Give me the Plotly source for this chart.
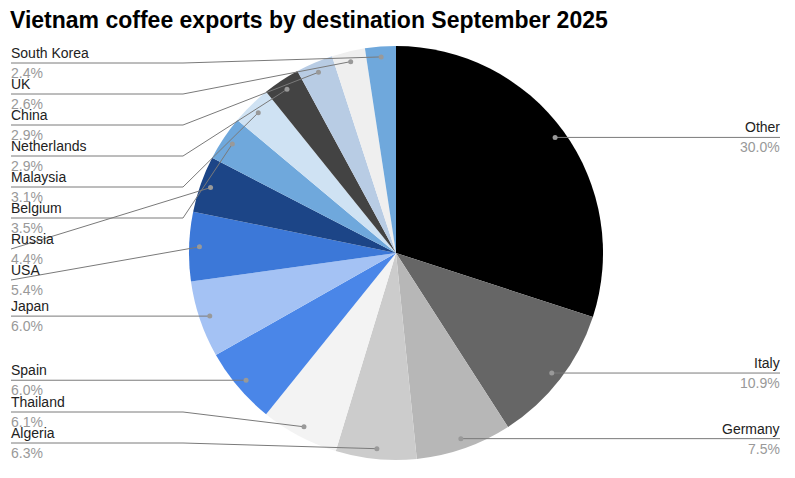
import math
import plotly.graph_objects as go

# ---------------- data ----------------
countries = ["Other", "Italy", "Germany", "Algeria", "Thailand", "Spain", "Japan",
             "USA", "Russia", "Belgium", "Malaysia", "Netherlands", "China", "UK",
             "South Korea"]
shares = [30.0, 10.9, 7.5, 6.3, 6.1, 6.0, 6.0, 5.4, 4.4, 3.5, 3.1, 2.9, 2.9, 2.6, 2.4]
slice_colors = ["#000000", "#666666", "#b7b7b7", "#cccccc", "#f3f3f3", "#4a86e8",
                "#a4c2f4", "#3c78d8", "#1c4587", "#6fa8dc", "#cfe2f3", "#434343",
                "#b8cce4", "#efefef", "#6fa8dc"]
title_text = "Vietnam coffee exports by destination September 2025"

# ---------------- layout constants (window pixels) ----------------
OFF = 8                      # default page body margin
W, H = 795 - OFF, 478 - OFF  # figure size
CX, CY, R = 396, 253, 207
DOT_FRAC = 0.95
LEFT_X, LEFT_ELBOW = 11, 183
RIGHT_X = 780
Y_MIN, Y_MAX, GAP = 63, 443, 31
FONT = "Liberation Sans, Arial, sans-serif"


def px(x):
    return (x - OFF) / W


def py(y):
    return 1 - (y - OFF) / H


fig = go.Figure()
fig.add_trace(go.Pie(
    labels=countries, values=shares, sort=False, direction="clockwise", rotation=0,
    marker=dict(colors=slice_colors, line=dict(width=0)),
    textinfo="none", hoverinfo="label+percent", showlegend=False,
    domain=dict(x=[px(CX - R), px(CX + R)], y=[py(CY + R), py(CY - R)]),
))

# anchor points of leader lines, derived from the data
total = sum(shares)
anchors = []
cum = 0.0
for name, v in zip(countries, shares):
    mid = (cum + v / 2) / total * 2 * math.pi
    cum += v
    ax = CX + DOT_FRAC * R * math.sin(mid)
    ay = CY - DOT_FRAC * R * math.cos(mid)
    anchors.append((name, v, ax, ay))

left = [a for a in anchors if a[2] < CX]
right = [a for a in anchors if a[2] >= CX]


def place(group):
    group = sorted(group, key=lambda a: a[3])
    ys = [min(max(a[3], Y_MIN), Y_MAX) for a in group]
    for i in range(1, len(ys)):
        ys[i] = max(ys[i], ys[i - 1] + GAP)
    ys[-1] = min(ys[-1], Y_MAX)
    for i in range(len(ys) - 2, -1, -1):
        ys[i] = min(ys[i], ys[i + 1] - GAP)
    return list(zip(group, ys))


shapes = []
annotations = []
LINE_COLOR = "#7a7a7a"
NAME_FONT = dict(family=FONT, size=14, color="#222222")
PCT_FONT = dict(family=FONT, size=14, color="#999999")

for (name, v, ax, ay), ly in place(left):
    path = f"M {px(LEFT_X)},{py(ly)} L {px(LEFT_ELBOW)},{py(ly)} L {px(ax)},{py(ay)}"
    if ax < LEFT_ELBOW + 30:
        path = f"M {px(LEFT_X)},{py(ly)} L {px(ax)},{py(ay)}"
    shapes.append(dict(type="path", xref="paper", yref="paper", path=path,
                       line=dict(color=LINE_COLOR, width=1), layer="above"))
    shapes.append(dict(type="circle", xref="paper", yref="paper",
                       x0=px(ax - 2.5), x1=px(ax + 2.5), y0=py(ay + 2.5), y1=py(ay - 2.5),
                       fillcolor="#999999", line=dict(width=0), layer="above"))
    annotations.append(dict(x=px(LEFT_X - 2), y=py(ly), xref="paper", yref="paper",
                            text=name, showarrow=False, xanchor="left", yanchor="bottom",
                            font=NAME_FONT))
    annotations.append(dict(x=px(LEFT_X - 2), y=py(ly), xref="paper", yref="paper",
                            text=f"{v:.1f}%", showarrow=False, xanchor="left", yanchor="top",
                            font=PCT_FONT))

for (name, v, ax, ay), ly in place(right):
    path = f"M {px(ax)},{py(ay)} L {px(RIGHT_X)},{py(ly)}"
    shapes.append(dict(type="path", xref="paper", yref="paper", path=path,
                       line=dict(color=LINE_COLOR, width=1), layer="above"))
    shapes.append(dict(type="circle", xref="paper", yref="paper",
                       x0=px(ax - 2.5), x1=px(ax + 2.5), y0=py(ay + 2.5), y1=py(ay - 2.5),
                       fillcolor="#999999", line=dict(width=0), layer="above"))
    annotations.append(dict(x=px(RIGHT_X + 2), y=py(ly), xref="paper", yref="paper",
                            text=name, showarrow=False, xanchor="right", yanchor="bottom",
                            font=NAME_FONT))
    annotations.append(dict(x=px(RIGHT_X + 2), y=py(ly), xref="paper", yref="paper",
                            text=f"{v:.1f}%", showarrow=False, xanchor="right", yanchor="top",
                            font=PCT_FONT))

annotations.append(dict(x=px(8), y=py(20), xref="paper", yref="paper",
                        text=f"<b>{title_text}</b>", showarrow=False,
                        xanchor="left", yanchor="middle",
                        font=dict(family=FONT, size=23, color="#000000")))

fig.update_layout(
    width=W, height=H, margin=dict(l=0, r=0, t=0, b=0),
    paper_bgcolor="#ffffff", plot_bgcolor="#ffffff",
    shapes=shapes, annotations=annotations, showlegend=False,
)

fig.write_html("out.html")
